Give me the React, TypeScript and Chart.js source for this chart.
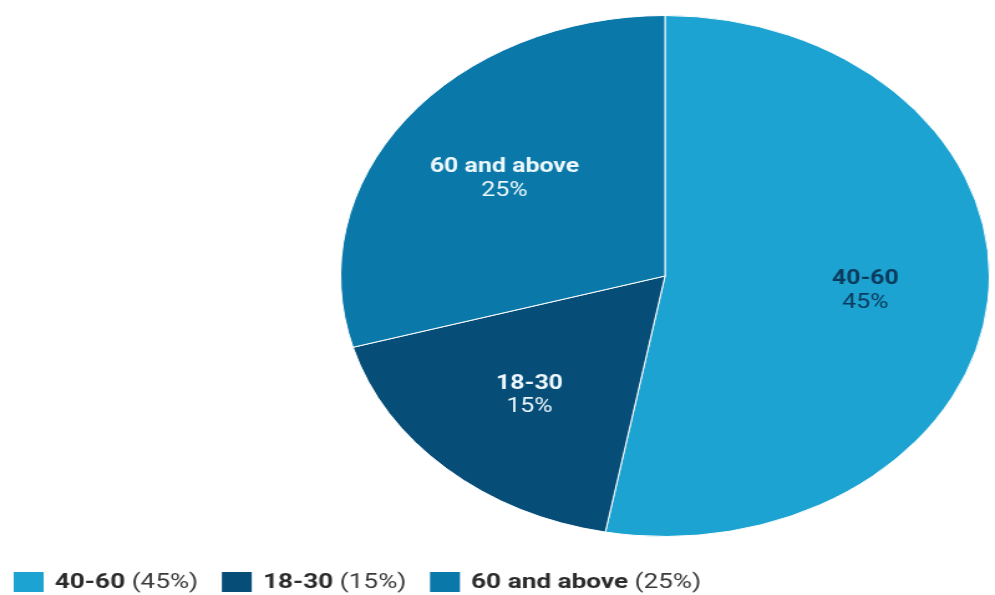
import React, { useEffect, useRef } from "react";
import { Chart, registerables } from "chart.js";

Chart.register(...registerables);

// ---- data ----
const categories = ["40-60", "18-30", "60 and above"];
const values = [45, 15, 25];
const percentLabels = ["45%", "15%", "25%"];

// ---- styles ----
const sliceColors = ["#1ca3d1", "#064d78", "#0a79a9"];
const sliceTextColors = ["#0b3a5c", "#eef8fc", "#eef8fc"];
const FONT = "Roboto, 'Noto Sans', sans-serif";

// buffer size (drawn) and CSS size (displayed, stretched horizontally)
const BUF_W = 799;
const BUF_H = 595;
const CSS_W = 995;
const CSS_H = 595;

const sliceLabelPlugin = {
  id: "sliceLabels",
  afterDatasetsDraw(chart: any) {
    const ctx = chart.ctx as CanvasRenderingContext2D;
    const meta = chart.getDatasetMeta(0);
    ctx.save();
    ctx.textAlign = "center";
    ctx.textBaseline = "middle";
    meta.data.forEach((arc: any, i: number) => {
      const p = arc.getProps(["x", "y", "startAngle", "endAngle", "outerRadius"], true);
      const mid = (p.startAngle + p.endAngle) / 2;
      const r = p.outerRadius * 0.62;
      const cx = p.x + Math.cos(mid) * r;
      const cy = p.y + Math.sin(mid) * r;
      ctx.fillStyle = sliceTextColors[i];
      ctx.font = `bold 20px ${FONT}`;
      ctx.fillText(categories[i], cx, cy - 11.5);
      ctx.font = `20px ${FONT}`;
      ctx.fillText(percentLabels[i], cx, cy + 12);
    });
    ctx.restore();
  },
};

const legendPlugin = {
  id: "customLegend",
  afterDraw(chart: any) {
    const ctx = chart.ctx as CanvasRenderingContext2D;
    const yMid = 582;
    let x = 11;
    ctx.save();
    ctx.textBaseline = "middle";
    ctx.textAlign = "left";
    categories.forEach((cat, i) => {
      ctx.fillStyle = sliceColors[i];
      ctx.fillRect(x, yMid - 10, 24, 20);
      x += 24 + 9;
      ctx.font = `bold 21px ${FONT}`;
      ctx.fillStyle = "#2b2b2b";
      ctx.fillText(cat, x, yMid + 1);
      x += ctx.measureText(cat).width;
      const rest = ` (${percentLabels[i]})`;
      ctx.font = `21px ${FONT}`;
      ctx.fillStyle = "#3a3a3a";
      ctx.fillText(rest, x, yMid + 1);
      x += ctx.measureText(rest).width + 19;
    });
    ctx.restore();
  },
};

export default function App() {
  const canvasRef = useRef<HTMLCanvasElement | null>(null);

  useEffect(() => {
    const canvas = canvasRef.current;
    if (!canvas) return;
    const chart = new Chart(canvas, {
      type: "pie",
      data: {
        labels: categories,
        datasets: [
          {
            data: values,
            backgroundColor: sliceColors,
            borderColor: "#ffffff",
            borderWidth: 1,
            hoverOffset: 0,
          },
        ],
      },
      options: {
        responsive: false,
        animation: false,
        devicePixelRatio: 1,
        layout: { padding: { left: 273, right: 4, top: 15, bottom: 58 } },
        plugins: {
          legend: { display: false },
          tooltip: { enabled: false },
        },
      },
      plugins: [sliceLabelPlugin, legendPlugin],
    });
    return () => chart.destroy();
  }, []);

  return (
    <div style={{ position: "absolute", left: 0, top: 0, width: CSS_W, height: CSS_H, background: "#fff" }}>
      <canvas
        ref={canvasRef}
        width={BUF_W}
        height={BUF_H}
        style={{ width: CSS_W + "px", height: CSS_H + "px", display: "block" }}
      />
    </div>
  );
}
